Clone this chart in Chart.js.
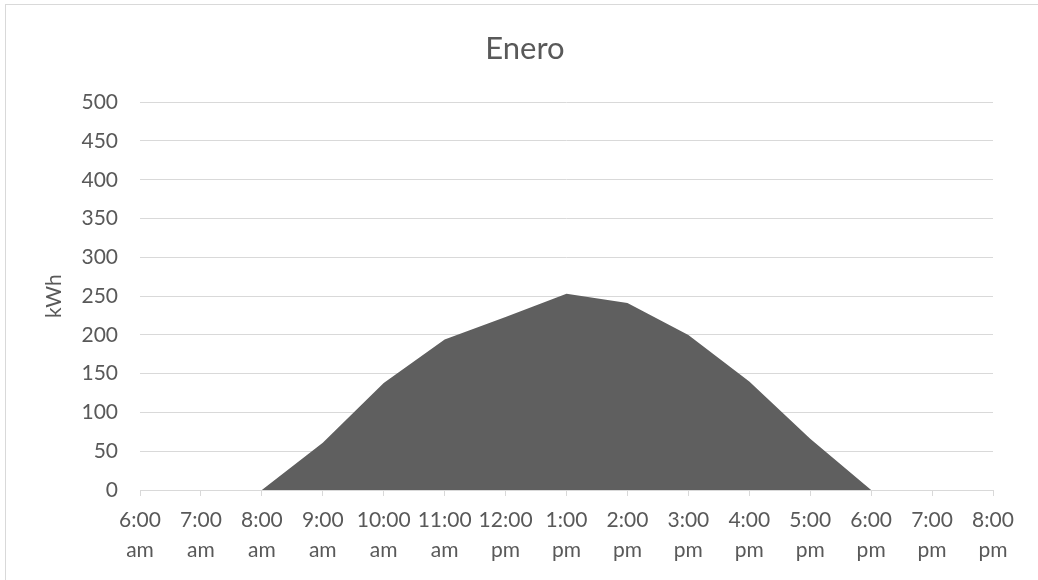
<!DOCTYPE html>
<html>
<head>
<meta charset="utf-8">
<script src="https://cdn.jsdelivr.net/npm/chart.js@4"></script>
<style>
  body { margin: 0; background: #fff; }
  #wrap { position: relative; width: 1038px; height: 580px; }
  #frame { position: absolute; left: 5px; top: 4px; width: 1040px; height: 590px; border: 1px solid #d9d9d9; pointer-events: none; }
</style>
</head>
<body>
<div id="wrap">
  <canvas id="eneroChart"></canvas>
  <div id="frame"></div>
</div>
<script>
const hours = [
    ['6:00', 'am'], ['7:00', 'am'], ['8:00', 'am'], ['9:00', 'am'], ['10:00', 'am'],
    ['11:00', 'am'], ['12:00', 'pm'], ['1:00', 'pm'], ['2:00', 'pm'], ['3:00', 'pm'],
    ['4:00', 'pm'], ['5:00', 'pm'], ['6:00', 'pm'], ['7:00', 'pm'], ['8:00', 'pm']
];
const energia = [0, 0, 0, 61, 138, 194, 223, 253, 241, 200, 140, 66, 0, 0, 0];

const textColor = '#595959';
const gridColor = '#d9d9d9';
const baseFont = 'Lato, "Open Sans", sans-serif';

const ctx = document.getElementById('eneroChart').getContext('2d');

// Enero area chart
new Chart(ctx, {
    type: 'line',
    data: {
        labels: hours,
        datasets: [{
            label: 'kWh',
            data: energia,
            fill: 'origin',
            backgroundColor: '#5f5f5f',
            borderWidth: 0,
            pointRadius: 0,
            tension: 0
        }]
    },
    options: {
        responsive: true,
        maintainAspectRatio: false,
        animation: false,
        layout: { padding: { left: 12, right: 0, top: 0, bottom: 0 } },
        plugins: {
            legend: { display: false },
            tooltip: { enabled: false },
            title: {
                display: true,
                text: 'Enero',
                color: textColor,
                font: { family: baseFont, size: 31, weight: 'normal', lineHeight: 1.2 },
                padding: { top: 30, bottom: 35 }
            }
        },
        scales: {
            x: {
                offset: false,
                grid: { drawOnChartArea: false, drawTicks: true, tickLength: 6, color: gridColor },
                border: { color: gridColor },
                ticks: {
                    color: textColor,
                    font: { family: baseFont, size: 21, lineHeight: 1.4 },
                    maxRotation: 0,
                    autoSkip: false,
                    padding: 10
                },
                afterFit: (scale) => { scale.height = 90; }
            },
            y: {
                min: 0,
                max: 500,
                ticks: {
                    stepSize: 50,
                    color: textColor,
                    font: { family: baseFont, size: 21 },
                    padding: 22
                },
                grid: { color: gridColor, drawTicks: false },
                border: { display: false },
                title: {
                    display: true,
                    text: 'kWh',
                    color: textColor,
                    font: { family: baseFont, size: 21, lineHeight: 1.2 },
                    padding: { top: 30, bottom: 0 }
                },
                afterFit: (scale) => { scale.width = 128; }
            },
            // empty right margin so the title centres like the original
            yRight: {
                type: 'linear',
                position: 'right',
                grid: { display: false },
                border: { display: false },
                ticks: { display: false },
                afterFit: (scale) => { scale.width = 45; }
            }
        }
    }
});
</script>
</body>
</html>
